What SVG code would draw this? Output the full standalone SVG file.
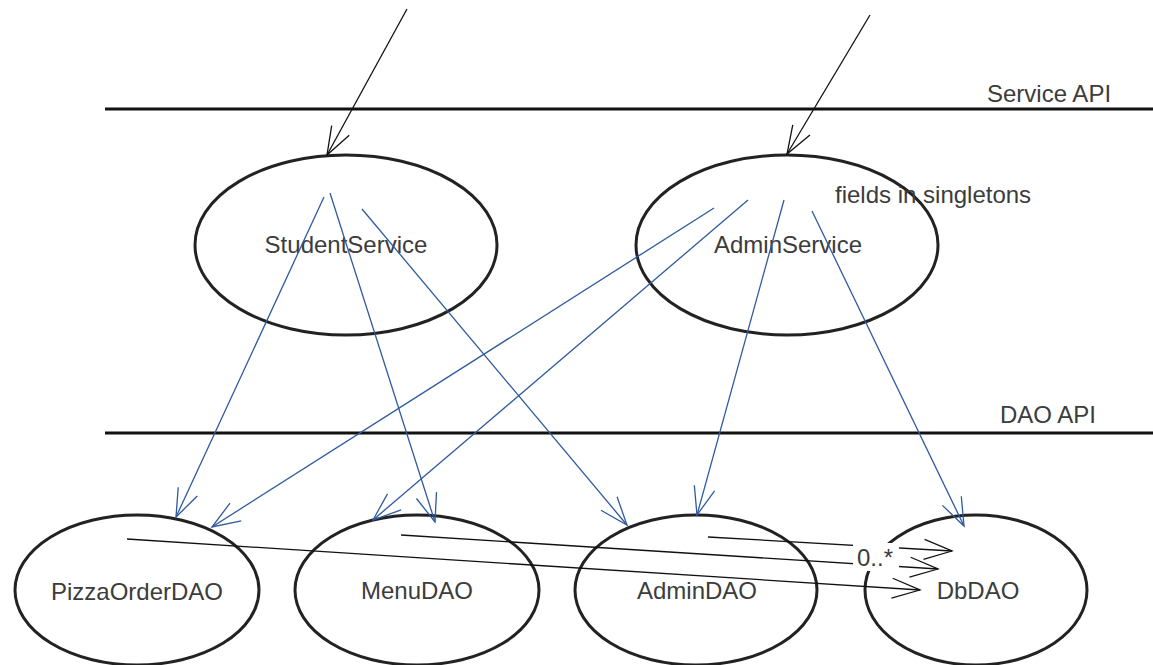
<svg xmlns="http://www.w3.org/2000/svg" width="1153" height="665" viewBox="0 0 1153 665">
<defs>
<style>
.node ellipse{fill:none;stroke:#222;stroke-width:3}
.lbl{font-family:"Liberation Sans",Arial,sans-serif;font-size:24px;fill:#3c3c3c}
.ctr{text-anchor:middle}
.api{stroke:#111;stroke-width:3}
.blk{stroke:#111;stroke-width:1.3;fill:none;marker-end:url(#ah-black)}
.blu{stroke:#2f5a9e;stroke-width:1.3;fill:none;marker-end:url(#ah-blue)}
</style>
<marker id="ah-black" markerUnits="userSpaceOnUse" markerWidth="40" markerHeight="30" refX="0" refY="0" viewBox="-32 -15 40 30" orient="auto" overflow="visible">
<path d="M-28,-10 L0,0 L-28,10" fill="none" stroke="#111" stroke-width="1.3"/>
</marker>
<marker id="ah-blue" markerUnits="userSpaceOnUse" markerWidth="40" markerHeight="30" refX="0" refY="0" viewBox="-32 -15 40 30" orient="auto" overflow="visible">
<path d="M-28,-10.5 L0,0 L-28,10.5" fill="none" stroke="#2f5a9e" stroke-width="1.3"/>
</marker>
</defs>
<rect width="1153" height="665" fill="#fff"/>

<g id="api-layers">
<line class="api" x1="105" y1="109" x2="1153" y2="109"/>
<text class="lbl" x="987" y="102">Service API</text>
<line class="api" x1="105" y1="433" x2="1153" y2="433"/>
<text class="lbl" x="1000" y="423">DAO API</text>
</g>

<g id="StudentService" class="node">
<ellipse cx="346" cy="245" rx="151" ry="90"/>
<text class="lbl ctr" x="346" y="253">StudentService</text>
</g>
<g id="AdminService" class="node">
<ellipse cx="787" cy="245" rx="151" ry="90"/>
<text class="lbl ctr" x="788" y="253">AdminService</text>
</g>
<g id="note">
<text class="lbl" x="835" y="203">fields in singletons</text>
</g>
<g id="PizzaOrderDAO" class="node">
<ellipse cx="137" cy="590" rx="122" ry="75"/>
<text class="lbl ctr" x="137" y="600">PizzaOrderDAO</text>
</g>
<g id="MenuDAO" class="node">
<ellipse cx="417" cy="590" rx="122" ry="75"/>
<text class="lbl ctr" x="417" y="599">MenuDAO</text>
</g>
<g id="AdminDAO" class="node">
<ellipse cx="696" cy="590" rx="121" ry="75"/>
<text class="lbl ctr" x="697" y="599">AdminDAO</text>
</g>
<g id="DbDAO" class="node">
<ellipse cx="976" cy="590" rx="111" ry="75"/>
<text class="lbl ctr" x="978" y="599">DbDAO</text>
</g>

<g id="connectors">
<line class="blk" x1="407" y1="9" x2="327" y2="155"/>
<line class="blk" x1="870" y1="15" x2="787" y2="154"/>

<line class="blu" x1="324" y1="197" x2="176" y2="517"/>
<line class="blu" x1="330" y1="193" x2="435" y2="522"/>
<line class="blu" x1="362" y1="209" x2="627" y2="525"/>
<line class="blu" x1="714" y1="208" x2="212" y2="527"/>
<line class="blu" x1="748" y1="200" x2="373" y2="520"/>
<line class="blu" x1="784" y1="200" x2="697" y2="515"/>
<line class="blu" x1="812" y1="211" x2="964" y2="526"/>

<line class="blk" x1="127" y1="539" x2="920" y2="590"/>
<line class="blk" x1="401" y1="535" x2="938" y2="569"/>
<line class="blk" x1="708" y1="537" x2="952" y2="551"/>

<g id="multiplicity">
<rect x="853" y="543" width="46" height="28" fill="#fff"/>
<text class="lbl" x="857" y="566">0..*</text>
</g>
</g>
</svg>
